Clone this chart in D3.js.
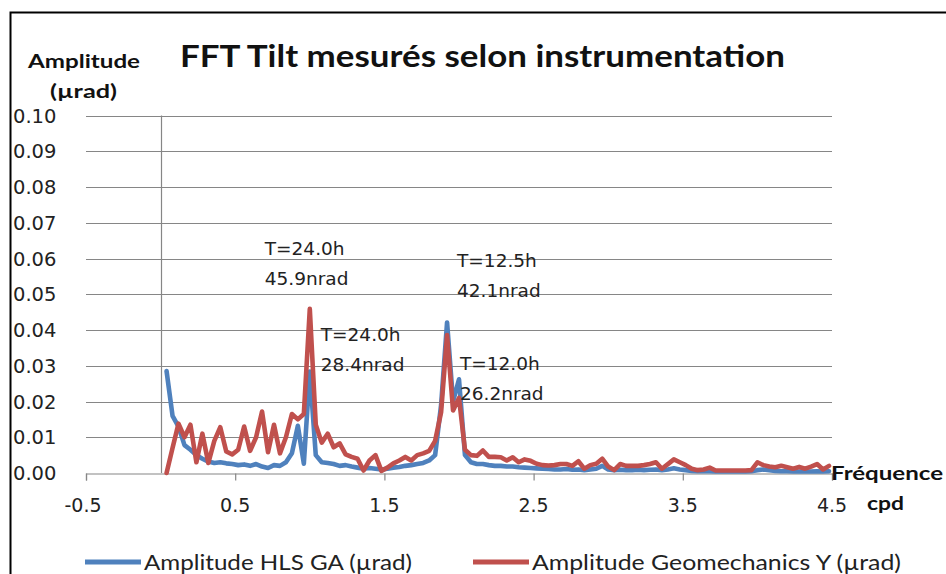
<!DOCTYPE html>
<html>
<head>
<meta charset="utf-8">
<script src="https://cdn.jsdelivr.net/npm/d3@7"></script>
<style>
  html, body { margin: 0; padding: 0; background: #fff; }
  svg { display: block; }
</style>
</head>
<body>
<svg id="chart" width="946" height="574"></svg>
<script>
// Frequency bins (cpd)
const freq = [
  0.04, 0.08, 0.12, 0.16, 0.20, 0.24, 0.28, 0.32, 0.36, 0.40,
  0.44, 0.48, 0.52, 0.56, 0.60, 0.64, 0.68, 0.72, 0.76, 0.80,
  0.84, 0.88, 0.92, 0.96, 1.00, 1.04, 1.08, 1.12, 1.16, 1.20,
  1.24, 1.28, 1.32, 1.36, 1.40, 1.44, 1.48, 1.52, 1.56, 1.60,
  1.64, 1.68, 1.72, 1.76, 1.80, 1.84, 1.88, 1.92, 1.96, 2.00,
  2.04, 2.08, 2.12, 2.16, 2.20, 2.24, 2.28, 2.32, 2.36, 2.40,
  2.44, 2.48, 2.52, 2.56, 2.60, 2.64, 2.68, 2.72, 2.76, 2.80,
  2.84, 2.88, 2.92, 2.96, 3.00, 3.04, 3.08, 3.12, 3.16, 3.20,
  3.24, 3.28, 3.32, 3.36, 3.40, 3.44, 3.48, 3.52, 3.56, 3.60,
  3.64, 3.68, 3.72, 3.76, 3.80, 3.84, 3.88, 3.92, 3.96, 4.00,
  4.04, 4.08, 4.12, 4.16, 4.20, 4.24, 4.28, 4.32, 4.36, 4.40,
  4.44, 4.48
];

// Amplitude HLS GA (µrad)
const hlsGA = [
  0.0285, 0.0160, 0.0130, 0.0078, 0.0065, 0.0050, 0.0040, 0.0032, 0.0028, 0.0030,
  0.0027, 0.0025, 0.0022, 0.0024, 0.0020, 0.0025, 0.0018, 0.0014, 0.0022, 0.0020,
  0.0030, 0.0055, 0.0132, 0.0026, 0.0284, 0.0050, 0.0030, 0.0028, 0.0025, 0.0020,
  0.0022, 0.0018, 0.0015, 0.0012, 0.0014, 0.0012, 0.0010, 0.0012, 0.0015, 0.0017,
  0.0020, 0.0022, 0.0025, 0.0028, 0.0035, 0.0050, 0.0190, 0.0421, 0.0200, 0.0262,
  0.0050, 0.0030, 0.0025, 0.0025, 0.0022, 0.0020, 0.0020, 0.0018, 0.0018, 0.0016,
  0.0015, 0.0014, 0.0013, 0.0012, 0.0011, 0.0010, 0.0010, 0.0011, 0.0009, 0.0010,
  0.0008, 0.0010, 0.0012, 0.0020, 0.0010, 0.0008, 0.0009, 0.0008, 0.0008, 0.0009,
  0.0008, 0.0009, 0.0010, 0.0008, 0.0010, 0.0013, 0.0010, 0.0008, 0.0006, 0.0005,
  0.0005, 0.0005, 0.0004, 0.0004, 0.0004, 0.0004, 0.0004, 0.0004, 0.0005, 0.0008,
  0.0010, 0.0008, 0.0006, 0.0005, 0.0005, 0.0004, 0.0004, 0.0004, 0.0004, 0.0005,
  0.0004, 0.0005
];

// Amplitude Geomechanics Y (µrad)
const geoY = [
  0.0000, 0.0070, 0.0138, 0.0100, 0.0135, 0.0030, 0.0110, 0.0028, 0.0090, 0.0128,
  0.0060, 0.0052, 0.0065, 0.0130, 0.0062, 0.0100, 0.0172, 0.0058, 0.0135, 0.0055,
  0.0100, 0.0165, 0.0150, 0.0165, 0.0459, 0.0135, 0.0085, 0.0110, 0.0072, 0.0083,
  0.0052, 0.0045, 0.0040, 0.0007, 0.0035, 0.0050, 0.0006, 0.0015, 0.0027, 0.0035,
  0.0045, 0.0035, 0.0050, 0.0055, 0.0062, 0.0090, 0.0170, 0.0386, 0.0175, 0.0210,
  0.0065, 0.0050, 0.0048, 0.0063, 0.0045, 0.0045, 0.0044, 0.0035, 0.0044, 0.0030,
  0.0038, 0.0034, 0.0026, 0.0022, 0.0021, 0.0022, 0.0025, 0.0025, 0.0020, 0.0033,
  0.0012, 0.0022, 0.0026, 0.0040, 0.0018, 0.0008, 0.0025, 0.0020, 0.0020, 0.0020,
  0.0022, 0.0025, 0.0030, 0.0012, 0.0025, 0.0038, 0.0030, 0.0022, 0.0012, 0.0008,
  0.0010, 0.0015, 0.0007, 0.0007, 0.0007, 0.0007, 0.0007, 0.0007, 0.0008, 0.0030,
  0.0022, 0.0018, 0.0016, 0.0020, 0.0016, 0.0012, 0.0017, 0.0012, 0.0018, 0.0025,
  0.0010, 0.0020
];

const xTicks = [-0.5, 0.5, 1.5, 2.5, 3.5, 4.5];
const yTicks = [0, 0.01, 0.02, 0.03, 0.04, 0.05, 0.06, 0.07, 0.08, 0.09, 0.10];

const seriesNames = ["Amplitude HLS GA (µrad)", "Amplitude Geomechanics Y (µrad)"];
const seriesColors = ["#4F81BD", "#C0504D"];

// Peak annotations: frequency, amplitude and the two text lines
const peakFreq = [1.00, 1.92, 1.00, 2.00];
const peakAmp = [0.0459, 0.0421, 0.0284, 0.0262];
const peakLines = [
  ["T=24.0h", "45.9nrad"],
  ["T=12.5h", "42.1nrad"],
  ["T=24.0h", "28.4nrad"],
  ["T=12.0h", "26.2nrad"]
];
// label offsets from the peak point (px)
const peakLabelDx = [-45, 10, 11, 1];
const peakLabelDy = [-61, -62, -37, -16];

const svg = d3.select("#chart");

const x = d3.scaleLinear().domain([-0.5, 4.5]).range([86, 832]);
const y = d3.scaleLinear().domain([0, 0.1]).range([473, 115.5]);

// outer chart frame
svg.append("rect")
  .attr("x", 10.5).attr("y", 12.5)
  .attr("width", 960).attr("height", 620)
  .attr("fill", "none").attr("stroke", "#000").attr("stroke-width", 2);

// horizontal gridlines
svg.append("g")
  .selectAll("line")
  .data(yTicks.filter(d => d > 0))
  .join("line")
  .attr("x1", x(-0.5)).attr("x2", x(4.5))
  .attr("y1", d => Math.round(y(d)) + 0.5).attr("y2", d => Math.round(y(d)) + 0.5)
  .attr("stroke", "#868686").attr("stroke-width", 1.2);

// vertical axis line crossing at x = 0
svg.append("line")
  .attr("x1", Math.round(x(0)) + 0.5).attr("x2", Math.round(x(0)) + 0.5)
  .attr("y1", y(0.1)).attr("y2", y(0))
  .attr("stroke", "#868686").attr("stroke-width", 1.2);

// horizontal axis at y = 0 with ticks pointing down
const xAxis = d3.axisBottom(x).tickValues(xTicks).tickSize(7).tickFormat("");
const gx = svg.append("g")
  .attr("transform", `translate(0,${Math.round(y(0)) + 0.5})`)
  .call(xAxis);
gx.select(".domain").attr("stroke", "#868686").attr("stroke-width", 1.2);
gx.selectAll(".tick line").attr("stroke", "#868686").attr("stroke-width", 1.2);

// x tick labels
svg.append("g")
  .selectAll("text")
  .data(xTicks)
  .join("text")
  .attr("x", d => x(d) - (d < 0 ? 3 : 0))
  .attr("y", 512)
  .attr("text-anchor", "middle")
  .attr("font-family", "DejaVu Sans, Verdana, sans-serif")
  .attr("font-size", 19)
  .attr("fill", "#222")
  .text(d => d.toFixed(1));

// y tick labels
svg.append("g")
  .selectAll("text")
  .data(yTicks)
  .join("text")
  .attr("x", 13)
  .attr("y", d => y(d) + 7)
  .attr("font-family", "DejaVu Sans, Verdana, sans-serif")
  .attr("font-size", 19.5)
  .attr("fill", "#222")
  .text(d => d.toFixed(2));

// series lines
const rowsBlue = freq.map((f, i) => [f, hlsGA[i]]);
const rowsRed = freq.map((f, i) => [f, geoY[i]]);
const line = d3.line().x(d => x(d[0])).y(d => y(d[1]));

[rowsBlue, rowsRed].forEach((rows, k) => {
  svg.append("path")
    .datum(rows)
    .attr("d", line)
    .attr("fill", "none")
    .attr("stroke", seriesColors[k])
    .attr("stroke-width", 4.6)
    .attr("stroke-linejoin", "round")
    .attr("stroke-linecap", "round");
});

// peak annotations
const ann = svg.append("g")
  .attr("font-family", "DejaVu Sans, Verdana, sans-serif")
  .attr("font-size", 18.5)
  .attr("fill", "#222");
peakLines.forEach((lines, i) => {
  const px = x(peakFreq[i]) + peakLabelDx[i];
  const py = y(peakAmp[i]) + peakLabelDy[i];
  lines.forEach((t, j) => {
    ann.append("text")
      .attr("x", px)
      .attr("y", py + j * 30 + 7)
      .text(t);
  });
});

// title
svg.append("text")
  .attr("x", 180).attr("y", 67)
  .attr("font-family", "Lato, 'Open Sans', sans-serif")
  .attr("font-weight", "bold")
  .attr("font-size", 31)
  .attr("fill", "#111")
  .attr("textLength", 605)
  .attr("lengthAdjust", "spacingAndGlyphs")
  .text("FFT Tilt mesurés selon instrumentation");

// axis titles
const axTitle = svg.append("g")
  .attr("font-family", "Lato, 'Open Sans', sans-serif")
  .attr("font-weight", "bold")
  .attr("font-size", 19.5)
  .attr("fill", "#111");
axTitle.append("text").attr("x", 28).attr("y", 68)
  .attr("textLength", 112).attr("lengthAdjust", "spacingAndGlyphs")
  .text("Amplitude");
axTitle.append("text").attr("x", 50).attr("y", 98)
  .attr("textLength", 67).attr("lengthAdjust", "spacingAndGlyphs")
  .text("(µrad)");
axTitle.append("text").attr("x", 831).attr("y", 480)
  .attr("textLength", 112).attr("lengthAdjust", "spacingAndGlyphs")
  .text("Fréquence");
axTitle.append("text").attr("x", 867).attr("y", 510)
  .attr("textLength", 37).attr("lengthAdjust", "spacingAndGlyphs")
  .text("cpd");

// legend
const legX = [85, 473];
const legTextLen = [268, 369];
const leg = svg.append("g");
seriesNames.forEach((name, i) => {
  leg.append("line")
    .attr("x1", legX[i]).attr("x2", legX[i] + 56)
    .attr("y1", 562).attr("y2", 562)
    .attr("stroke", seriesColors[i]).attr("stroke-width", 5);
  leg.append("text")
    .attr("x", legX[i] + 59).attr("y", 570)
    .attr("font-family", "Lato, 'Open Sans', sans-serif")
    .attr("font-size", 21)
    .attr("fill", "#222")
    .attr("textLength", legTextLen[i])
    .attr("lengthAdjust", "spacingAndGlyphs")
    .text(name);
});
</script>
</body>
</html>
